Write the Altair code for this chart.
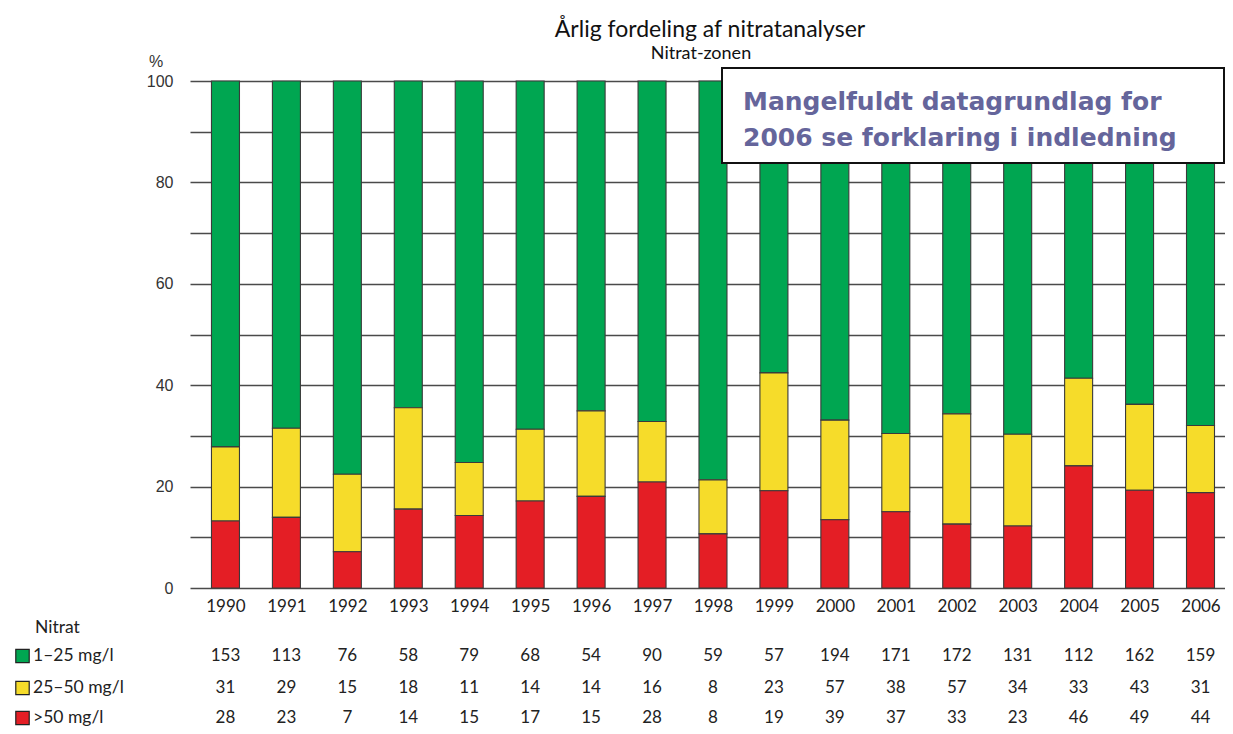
import altair as alt
import pandas as pd

years = list(range(1990, 2007))
cat_labels = ["1–25 mg/l", "25–50 mg/l", ">50 mg/l"]
low = [153, 113, 76, 58, 79, 68, 54, 90, 59, 57, 194, 171, 172, 131, 112, 162, 159]
mid = [31, 29, 15, 18, 11, 14, 14, 16, 8, 23, 57, 38, 57, 34, 33, 43, 31]
high = [28, 23, 7, 14, 15, 17, 15, 28, 8, 19, 39, 37, 33, 23, 46, 49, 44]
colors = ["#00a651", "#f6dc2a", "#e41e25"]
y_ticks = list(range(0, 101, 10))

title_text = "Årlig fordeling af nitratanalyser"
subtitle_text = "Nitrat-zonen"
note_lines = ["Mangelfuldt datagrundlag for", "2006 se forklaring i indledning"]

rows = []
for i, yr in enumerate(years):
    for k, (lab, vals) in enumerate(zip(cat_labels, [low, mid, high])):
        rows.append({"year": yr, "cat": lab, "n": vals[i], "order": k})
df = pd.DataFrame(rows)

W, H = 1035, 507
x_scale = alt.Scale(domain=[1989.5, 2006.32], nice=False, zero=False)
y_scale = alt.Scale(domain=[0, 100], nice=False, zero=True)
FONT = "Lato"
TXT = "#222222"

bars = (
    alt.Chart(df)
    .transform_joinaggregate(total="sum(n)", groupby=["year"])
    .transform_calculate(pct="datum.n / datum.total * 100")
    .mark_bar(size=28, stroke="#3a3a3a", strokeWidth=1.1)
    .encode(
        x=alt.X(
            "year:Q",
            scale=x_scale,
            axis=alt.Axis(
                values=years, format="d", title=None, ticks=False, domain=False,
                grid=False, labelFontSize=17, labelFont=FONT, labelColor=TXT,
                labelPadding=10, labelFontWeight="normal", labelFlush=False,
                labelOverlap=False, labelBound=False,
            ),
        ),
        y=alt.Y(
            "pct:Q",
            stack="zero",
            scale=y_scale,
            axis=alt.Axis(
                values=y_ticks,
                labelExpr="datum.value % 20 == 0 ? datum.label : ''",
                title=None, ticks=False, domain=False, grid=True,
                gridColor="#4a4a4a", gridWidth=1.3, labelFontSize=16,
                labelFont="Liberation Sans", labelColor="#333333", labelPadding=17,
            ),
        ),
        color=alt.Color("cat:N", scale=alt.Scale(domain=cat_labels, range=colors), legend=None),
        order=alt.Order("order:Q", sort="descending"),
    )
)

layers = [bars]

# table rows of counts
row_y = [575, 607, 637]
for k, lab in enumerate(cat_labels):
    layers.append(
        alt.Chart(df)
        .transform_filter(alt.datum.cat == lab)
        .mark_text(font=FONT, fontSize=17, color=TXT)
        .encode(x=alt.X("year:Q", scale=x_scale), y=alt.value(row_y[k]), text="n:Q")
    )
    lab_df = pd.DataFrame({"cat": [lab]})
    layers.append(
        alt.Chart(lab_df)
        .mark_square(size=180, stroke="#222222", strokeWidth=1.2, opacity=1, color=colors[k])
        .encode(x=alt.value(-167.5), y=alt.value(row_y[k]))
    )
    layers.append(
        alt.Chart(lab_df)
        .mark_text(font=FONT, fontSize=17.5, color=TXT, align="left")
        .encode(x=alt.value(-157), y=alt.value(row_y[k]), text="cat:N")
    )

def single_text(t, x, y, **kw):
    return (
        alt.Chart(pd.DataFrame({"t": [t]}))
        .mark_text(**kw)
        .encode(x=alt.value(x), y=alt.value(y), text="t:N")
    )

layers.append(single_text("Nitrat", -155, 547, font=FONT, fontSize=17.5, color=TXT, align="left"))
layers.append(single_text("%", -34, -19, font="Liberation Sans", fontSize=16, color="#333333"))
layers.append(single_text(title_text, 520, -51, font=FONT, fontSize=23, color="#111111"))
layers.append(single_text(subtitle_text, 511, -27, font=FONT, fontSize=18, color="#111111"))

# annotation box
layers.append(
    alt.Chart(pd.DataFrame({"t": [0]}))
    .mark_rect(fill="white", stroke="#111111", strokeWidth=2)
    .encode(x=alt.value(532), x2=alt.value(1034), y=alt.value(-13), y2=alt.value(82))
)
for i, line in enumerate(note_lines):
    layers.append(
        single_text(line, 553, [21, 57][i], font="DejaVu Sans", fontSize=25,
                    fontWeight="bold", color="#65659b", align="left")
    )

chart = (
    alt.layer(*layers)
    .properties(
        width=W, height=H,
        autosize=alt.AutoSizeParams(type="none"),
        padding={"left": 182, "top": 73, "right": 0, "bottom": 138},
    )
    .configure_view(stroke=None)
)

chart.save("out.html", embed_options={"renderer": "svg", "actions": False})
